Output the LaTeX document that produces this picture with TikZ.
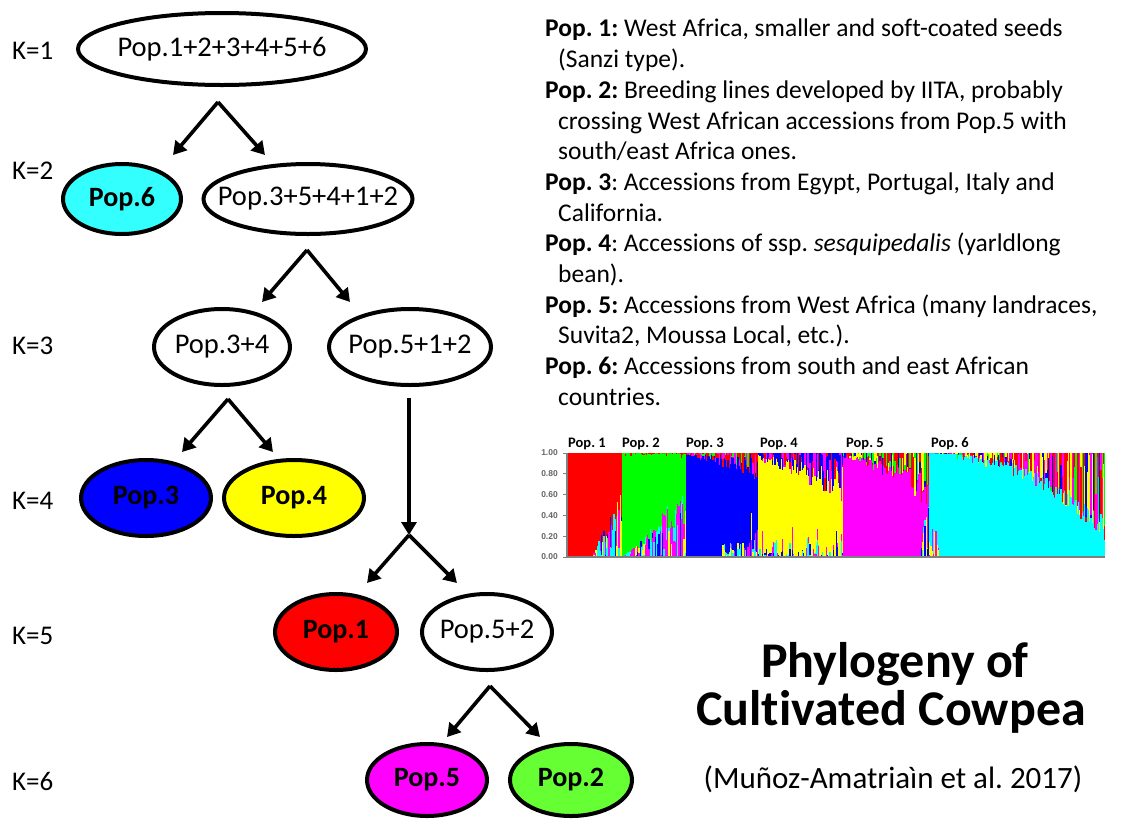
\documentclass[tikz,border=0pt]{standalone}
\usepackage{fontspec}
\setmainfont{Carlito}[Ligatures=NoCommon]
\newfontfamily\axisfont{Liberation Sans}
\usetikzlibrary{shapes.geometric,arrows.meta}
\definecolor{popcyan}{RGB}{51,255,255}
\definecolor{popgreen}{RGB}{102,255,51}
\definecolor{pred}{RGB}{255,0,0}
\definecolor{pgreen}{RGB}{0,255,0}
\definecolor{pblue}{RGB}{0,0,255}
\definecolor{pyellow}{RGB}{255,255,0}
\definecolor{pmag}{RGB}{255,0,255}
\definecolor{pcyan}{RGB}{0,255,255}
\tikzset{
 pop/.style={ellipse,draw=black,line width=4pt,inner sep=0pt,font=\fontsize{28.5}{30}\selectfont},
 popb/.style={pop,font=\fontsize{28}{30}\selectfont\bfseries},
 arr/.style={line width=3.6pt,-{Triangle[length=13pt,width=15pt]}},
 klab/.style={anchor=base west,inner sep=0pt,font=\fontsize{27}{30}\selectfont},
 plab/.style={anchor=base west,font=\fontsize{14.5}{16}\selectfont\bfseries,inner sep=0pt},
 tick/.style={anchor=east,font=\axisfont\bfseries\fontsize{8.5}{9}\selectfont,text=black!60,inner sep=0pt},
}
\pgfmathdeclarerandomlist{ponebot}{{pcyan}{pmag}{pblue}{pcyan}{pyellow}}
\pgfmathdeclarerandomlist{ponetop}{{pred}}
\pgfmathdeclarerandomlist{ptwobot}{{pmag}{pcyan}{pyellow}{pmag}{pblue}{pcyan}}
\pgfmathdeclarerandomlist{ptwotop}{{pred}{pgreen}}
\pgfmathdeclarerandomlist{pthreebot}{{pyellow}{pmag}{pcyan}}
\pgfmathdeclarerandomlist{pthreetop}{{pred}{pred}{pgreen}{pmag}}
\pgfmathdeclarerandomlist{pfourbot}{{pmag}{pcyan}{pblue}}
\pgfmathdeclarerandomlist{pfourtop}{{pblue}{pblue}{pred}{pmag}}
\pgfmathdeclarerandomlist{pfivebot}{{pcyan}{pyellow}{pblue}}
\pgfmathdeclarerandomlist{pfivetop}{{pred}{pblue}{pred}{pgreen}{pyellow}}
\pgfmathdeclarerandomlist{psixbot}{{pmag}{pyellow}}
\pgfmathdeclarerandomlist{psixtop}{{pred}{pyellow}{pblue}{pred}{pgreen}{pmag}{pyellow}}
% #1 x0, #2 last index, #3 main colour, #4 bottom expr, #5 top expr, #6 bottom list, #7 top list
\newcommand\structpop[7]{%
 \fill[#3] (#1,453) rectangle ({#1+1.25*(#2+1)},557);
 \foreach \i in {0,...,#2}{%
  \pgfmathsetmacro\t{\i/#2}%
  \pgfmathsetmacro\xx{#1+1.25*\i}%
  \pgfmathsetmacro\bv{max(0,min(1,#4))}%
  \pgfmathsetmacro\tv{max(0,min(1,#5))}%
  \pgfmathsetmacro\sp{rnd}%
  \pgfmathsetmacro\sq{rnd}%
  \pgfmathrandomitem\cA{#6}\let\cAx\cA
  \pgfmathrandomitem\cB{#6}\let\cBx\cB
  \pgfmathrandomitem\cC{#7}\let\cCx\cC
  \pgfmathrandomitem\cD{#7}\let\cDx\cD
  \fill[\cAx] (\xx,557) rectangle ({\xx+1.3},{557-104*\bv*\sp});
  \fill[\cBx] (\xx,{557-104*\bv*\sp}) rectangle ({\xx+1.3},{557-104*\bv});
  \fill[\cCx] (\xx,453) rectangle ({\xx+1.3},{453+104*\tv*\sq});
  \fill[\cDx] (\xx,{453+104*\tv*\sq}) rectangle ({\xx+1.3},{453+104*\tv});
 }%
}
\begin{document}
\frenchspacing
\begin{tikzpicture}[x=1pt,y=-1pt]
\useasboundingbox[fill=white] (0,0) rectangle (1125,820);
\pgfmathsetseed{7}

% K labels
\node[klab] (k1) at (12,59) {K=1};
\node[klab] (k2) at (12,179) {K=2};
\node[klab] (k3) at (12,354) {K=3};
\node[klab] (k4) at (12,509) {K=4};
\node[klab] (k5) at (12,644) {K=5};
\node[klab] (k6) at (12,790) {K=6};

% tree nodes
\node[pop,minimum width=288pt,minimum height=72pt] (all) at (222,49) {\makebox[0pt]{Pop.1+2+3+4+5+6}};
\node[popb,fill=popcyan,minimum width=118pt,minimum height=70pt] (p6) at (122,199) {\makebox[0pt]{Pop.6}};
\node[pop,minimum width=209pt,minimum height=70pt] (p35412) at (308,199) {\makebox[0pt]{Pop.3+5+4+1+2}};
\node[pop,minimum width=136pt,minimum height=76pt] (p34) at (222,347) {\makebox[0pt]{Pop.3+4}};
\node[pop,minimum width=162pt,minimum height=76pt] (p512) at (410,347) {\makebox[0pt]{Pop.5+1+2}};
\node[popb,fill=pblue,minimum width=130pt,minimum height=76pt] (p3) at (146,498) {\makebox[0pt]{Pop.3}};
\node[popb,fill=pyellow,minimum width=140pt,minimum height=76pt] (p4) at (294,498) {\makebox[0pt]{Pop.4}};
\node[popb,fill=pred,minimum width=122pt,minimum height=76pt] (p1) at (336,632) {\makebox[0pt]{Pop.1}};
\node[pop,minimum width=130pt,minimum height=76pt] (p52) at (487,632) {\makebox[0pt]{Pop.5+2}};
\node[popb,fill=pmag,minimum width=120pt,minimum height=72pt] (p5) at (427,780) {\makebox[0pt]{Pop.5}};
\node[popb,fill=popgreen,minimum width=122pt,minimum height=72pt] (p2) at (571,780) {\makebox[0pt]{Pop.2}};

% branching arrows
\coordinate (a1) at (218,102);
\coordinate (a1l) at (173,155);
\coordinate (a1r) at (265,155);
\coordinate (a2) at (307,250);
\coordinate (a2l) at (262,302);
\coordinate (a2r) at (350,302);
\coordinate (a3) at (228,399);
\coordinate (a3l) at (182,452);
\coordinate (a3r) at (273,452);
\coordinate (v4) at (409,398);
\coordinate (a4) at (409,535);
\coordinate (a4l) at (367,583);
\coordinate (a4r) at (457,583);
\coordinate (a5) at (490,686);
\coordinate (a5l) at (447,737);
\coordinate (a5r) at (540,737);
\draw[arr] (a1) -- (a1l);
\draw[arr] (a1) -- (a1r);
\draw[arr] (a2) -- (a2l);
\draw[arr] (a2) -- (a2r);
\draw[arr] (a3) -- (a3l);
\draw[arr] (a3) -- (a3r);
\draw[arr] (v4) -- (a4);
\draw[arr] (a4) -- (a4l);
\draw[arr] (a4) -- (a4r);
\draw[arr] (a5) -- (a5l);
\draw[arr] (a5) -- (a5r);

% description
\node[anchor=north west,inner sep=0pt,align=left,font=\fontsize{25.5}{30.7}\selectfont] (desc) at (545,19) {%
\textbf{Pop. 1:} West Africa, smaller and soft-coated seeds\\
\hspace*{13pt}(Sanzi type).\\
\textbf{Pop. 2:} Breeding lines developed by IITA, probably\\
\hspace*{13pt}crossing West African accessions from Pop.5 with\\
\hspace*{13pt}south/east Africa ones.\\
\textbf{Pop. 3}: Accessions from Egypt, Portugal, Italy and\\
\hspace*{13pt}California.\\
\textbf{Pop. 4}: Accessions of ssp. \textit{sesquipedalis} (yarldlong\\
\hspace*{13pt}bean).\\
\textbf{Pop. 5:} Accessions from West Africa (many landraces,\\
\hspace*{13pt}Suvita2, Moussa Local, etc.).\\
\textbf{Pop. 6:} Accessions from south and east African\\
\hspace*{13pt}countries.};

% structure plot
\structpop{567}{43}{pred}{(\t>0.45)*(\t-0.45)*(0.6+0.6*rnd)}{0}{ponebot}{ponetop}
\structpop{622}{50}{pgreen}{\t*0.62*(0.5+0.6*rnd)}{0.05*rnd^3}{ptwobot}{ptwotop}
\structpop{686}{57}{pblue}{(\t>0.5)*0.15*rnd+(\t>0.9)*0.3*rnd}{\t*0.25*rnd+0.02*rnd}{pthreebot}{pthreetop}
\structpop{758}{67}{pyellow}{0.3*rnd^3}{(0.05+0.35*\t)*(0.3+0.9*rnd)}{pfourbot}{pfourtop}
\structpop{843}{68}{pmag}{(\t>0.9)*0.5*rnd}{(0.05+0.4*\t^1.5)*(0.4+0.8*rnd)}{pfivebot}{pfivetop}
\structpop{929}{140}{pcyan}{(\t<0.05)*0.3*rnd}{0.62*\t^2.5+(\t>0.15)*(0.03+0.2*\t)*rnd}{psixbot}{psixtop}

\coordinate (ax0) at (567,557);
\coordinate (axt) at (567,453);
\coordinate (axr) at (1105,557);
\draw[black!50,line width=1.4pt] (axt) -- (ax0) -- (axr);
\foreach \v/\lab in {0/0.00,0.2/0.20,0.4/0.40,0.6/0.60,0.8/0.80,1/1.00}{
 \draw[black!50,line width=0.8pt] (563,{557-104*\v}) -- (567,{557-104*\v});
 \node[tick] at (558,{557-104*\v}) {\lab};
}
\node[plab] (l1) at (568,447) {Pop. 1};
\node[plab] (l2) at (622,447) {Pop. 2};
\node[plab] (l3) at (686,447) {Pop. 3};
\node[plab] (l4) at (760,447) {Pop. 4};
\node[plab] (l5) at (846,447) {Pop. 5};
\node[plab] (l6) at (931,447) {Pop. 6};

% title
\node[anchor=base,font=\fontsize{50}{52}\selectfont\bfseries,inner sep=0pt] (t1) at (895,677) {Phylogeny of};
\node[anchor=base,font=\fontsize{50}{52}\selectfont\bfseries,inner sep=0pt] (t2) at (891,725) {Cultivated Cowpea};
\node[anchor=base,font=\fontsize{31}{34}\selectfont,inner sep=0pt] (cite) at (893,788) {(Muñoz-Amatriaìn et al. 2017)};
\end{tikzpicture}
\end{document}
